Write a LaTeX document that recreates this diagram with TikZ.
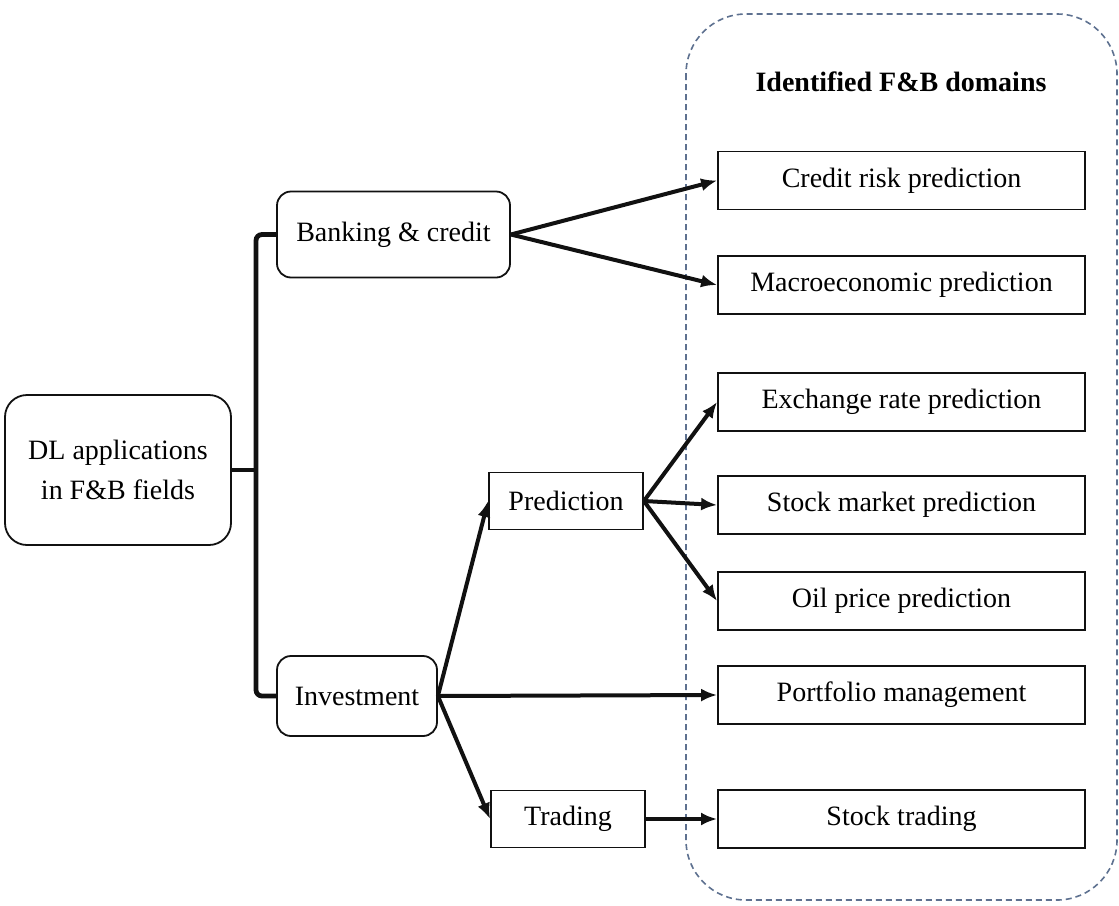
\documentclass[tikz,border=0pt]{standalone}
\usepackage{fontspec}
\setmainfont{Liberation Serif}
\usepackage{tikz}
\usetikzlibrary{arrows.meta,positioning}
\definecolor{ink}{HTML}{111111}
\definecolor{frame}{HTML}{5E7190}
\tikzset{
  >={Latex[length=8pt,width=6.5pt]},
  box/.style={draw=ink,line width=0.9pt,inner sep=2pt,align=center,font=\fontsize{14}{20}\selectfont},
  rbox/.style={box,rounded corners=7pt},
  dbox/.style={box,minimum width=183.5pt,minimum height=29pt},
  arr/.style={->,draw=ink,line width=2pt},
  brk/.style={draw=ink,line width=2.4pt,rounded corners=3pt},
  lab/.style={font=\fontsize{14}{20}\selectfont\bfseries},
}

\begin{document}
\begin{tikzpicture}[x=0.5pt,y=-0.5pt]
\useasboundingbox (0,0) rectangle (1119,905);
% domain frame
\draw[frame,dash pattern=on 3pt off 2pt,line width=0.8pt,rounded corners=30pt] (686,14) rectangle (1117,900);
\node[lab] (title) at (901,82) {Identified F\&B domains};
% left side
\node[rbox,minimum width=113pt,minimum height=75pt,rounded corners=11pt] (dl) at (118,470) {DL applications\\in F\&B fields};
\node[rbox,minimum width=116.5pt,minimum height=43pt] (bank) at (393.5,234.5) {Banking \& credit};
\node[rbox,minimum width=80pt,minimum height=40pt] (inv) at (357,696) {Investment};
\node[box,minimum width=77pt,minimum height=28.5pt] (pred) at (566,501) {Prediction};
\node[box,minimum width=77pt,minimum height=28.5pt] (trade) at (568,819) {Trading};
% domains
\node[dbox] (credit) at (901.5,180.5) {Credit risk prediction};
\node[dbox] (macro) at (901.5,285) {Macroeconomic prediction};
\node[dbox] (exch) at (901.5,402) {Exchange rate prediction};
\node[dbox] (stock) at (901.5,505) {Stock market prediction};
\node[dbox] (oil) at (901.5,601) {Oil price prediction};
\node[dbox] (port) at (901.5,695) {Portfolio management};
\node[dbox] (strade) at (901.5,819) {Stock trading};
% bracket
\coordinate (fork) at (256,470);
\draw[brk] (bank.west) -| (fork) |- (inv.west);
\draw[brk] (dl.east) -- (fork);
% arrows
\draw[arr] (bank.east) -- (credit.west);
\draw[arr] (bank.east) -- (macro.west);
\draw[arr] (inv.east) -- (pred.west);
\draw[arr] (inv.east) -- (port.west);
\draw[arr] (inv.east) -- (trade.west);
\draw[arr] (pred.east) -- (exch.west);
\draw[arr] (pred.east) -- (stock.west);
\draw[arr] (pred.east) -- (oil.west);
\draw[arr] (trade.east) -- (strade.west);
\end{tikzpicture}
\end{document}
